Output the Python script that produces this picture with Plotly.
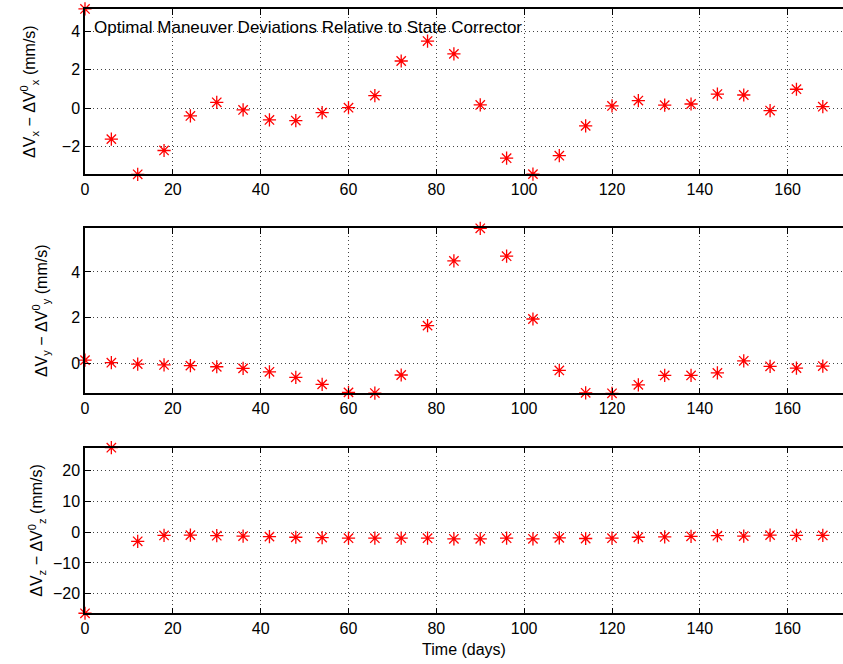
import plotly.graph_objects as go

# Maneuver epochs (days) and velocity deviations (mm/s)
days = [0, 6, 12, 18, 24, 30, 36, 42, 48, 54, 60, 66, 72, 78, 84,
        90, 96, 102, 108, 114, 120, 126, 132, 138, 144, 150, 156, 162, 168]

dvx = [5.17, -1.61, -3.44, -2.20, -0.40, 0.31, -0.09, -0.61, -0.64, -0.23,
       0.03, 0.66, 2.46, 3.50, 2.83, 0.17, -2.60, -3.43, -2.47, -0.92,
       0.12, 0.40, 0.16, 0.22, 0.74, 0.69, -0.12, 0.99, 0.08]

dvy = [0.14, 0.03, -0.03, -0.07, -0.10, -0.15, -0.22, -0.37, -0.61, -0.92,
       -1.27, -1.30, -0.51, 1.65, 4.48, 5.91, 4.69, 1.94, -0.31, -1.29,
       -1.31, -0.94, -0.53, -0.53, -0.42, 0.11, -0.13, -0.21, -0.12]

dvz = [-26.3, 27.3, -3.0, -1.1, -1.0, -1.2, -1.3, -1.5, -1.7, -1.8,
       -2.0, -2.0, -2.0, -2.0, -2.2, -2.2, -2.0, -2.2, -1.9, -2.1,
       -2.0, -1.7, -1.6, -1.4, -1.2, -1.3, -1.0, -1.1, -1.1]

x_ticks = [0, 20, 40, 60, 80, 100, 120, 140, 160]
y_ticks = [[-2, 0, 2, 4], [0, 2, 4], [-20, -10, 0, 10, 20]]
y_titles = [
    "ΔV<sub>x</sub> − ΔV<sup>0</sup><sub>x</sub> (mm/s)",
    "ΔV<sub>y</sub> − ΔV<sup>0</sup><sub>y</sub> (mm/s)",
    "ΔV<sub>z</sub> − ΔV<sup>0</sup><sub>z</sub> (mm/s)",
]
title_text = "Optimal Maneuver Deviations Relative to State Corrector"
x_title = "Time (days)"

series = [dvx, dvy, dvz]
domains = [[0.7375, 0.9865], [0.4077, 0.6562], [0.0764, 0.3258]]
title_gaps = [22, 20, 6]
x_max = 172.6

FONT = "Liberation Sans, Arial, Helvetica, sans-serif"

fig = go.Figure()
layout = dict(
    width=843, height=664,
    margin=dict(l=85, r=0, t=0, b=0),
    paper_bgcolor="white", plot_bgcolor="white",
    showlegend=False,
    font=dict(family=FONT, size=16, color="black"),
)

for i, vals in enumerate(series):
    n = "" if i == 0 else str(i + 1)
    fig.add_trace(go.Scatter(
        x=days, y=vals, mode="markers",
        xaxis="x" + n, yaxis="y" + n,
        cliponaxis=False,
        marker=dict(symbol="asterisk-open", size=11,
                    line=dict(color="#ff0000", width=1.3), color="#ff0000"),
    ))
    lo, hi = min(vals), max(vals)
    layout["xaxis" + n] = dict(
        domain=[0, 1], anchor="y" + n, range=[0, x_max],
        tickvals=x_ticks, ticks="inside", ticklen=6, tickwidth=1,
        tickcolor="black",
        showline=True, linecolor="black", linewidth=1.5, mirror="allticks",
        showgrid=True, gridcolor="#444444", gridwidth=1, griddash="1px,3px",
        zeroline=False, tickfont=dict(size=16),
    )
    if i == 2:
        layout["xaxis" + n]["title"] = dict(text=x_title, font=dict(size=16),
                                            standoff=8)
    layout["yaxis" + n] = dict(
        domain=domains[i], anchor="x" + n, range=[lo, hi],
        tickvals=y_ticks[i], ticks="inside", ticklen=6, tickwidth=1,
        tickcolor="black",
        showline=True, linecolor="black", linewidth=1.5, mirror=False,
        showgrid=True, gridcolor="#444444", gridwidth=1, griddash="1px,3px",
        zeroline=False, tickfont=dict(size=16),
        title=dict(text=y_titles[i], font=dict(size=16),
                   standoff=title_gaps[i]),
    )

fig.update_layout(**layout)

fig.add_annotation(
    text=title_text, xref="x", yref="y", x=1.6, y=4.18,
    xanchor="left", yanchor="middle", showarrow=False,
    font=dict(size=17, family=FONT, color="black"),
)

fig.write_html("out.html")
